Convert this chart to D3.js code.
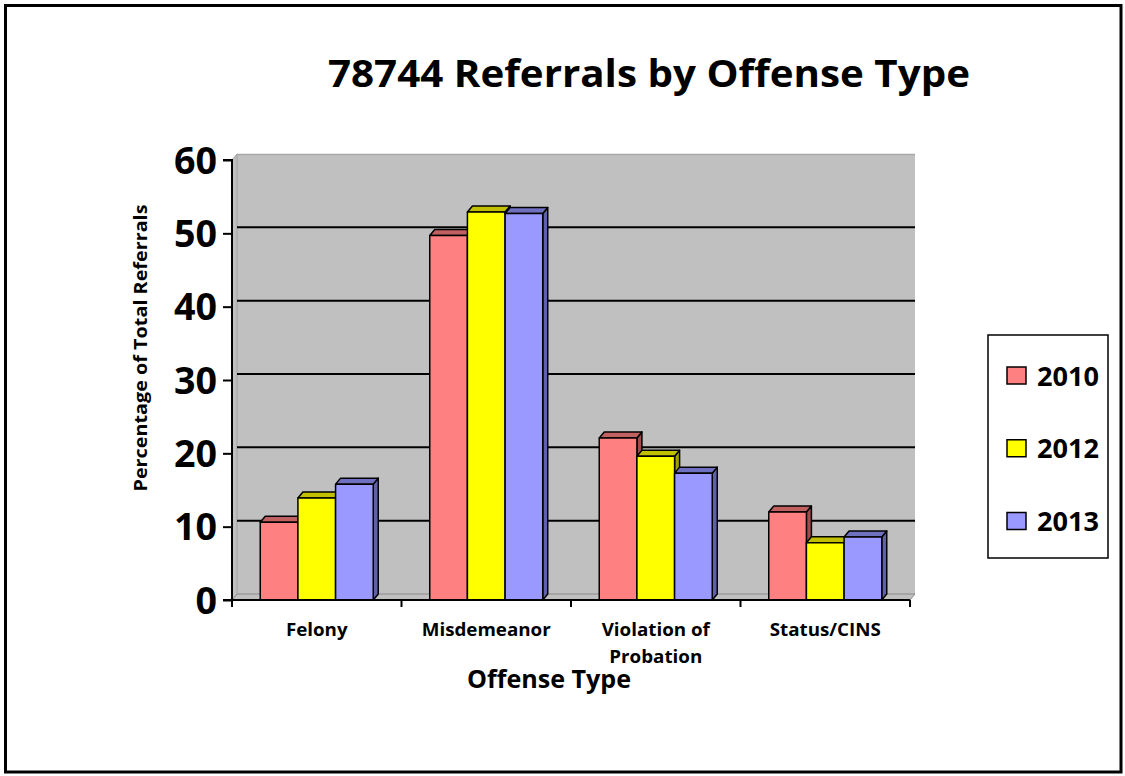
<!DOCTYPE html>
<html>
<head>
<meta charset="utf-8">
<script src="https://cdn.jsdelivr.net/npm/d3@7"></script>
<style>
  html, body { margin: 0; padding: 0; background: #fff; }
  svg { display: block; }
  text { font-family: "Open Sans", Lato, "Liberation Sans", sans-serif; font-weight: bold; fill: #000; }
</style>
</head>
<body>
<svg id="chart" width="1125" height="776"></svg>
<script>
// ---- data ----
const categories = ["Felony", "Misdemeanor", "Violation of\nProbation", "Status/CINS"];
const seriesNames = ["2010", "2012", "2013"];
const values2010 = [10.6, 49.7, 22.1, 12.0];
const values2012 = [13.9, 52.9, 19.6, 7.8];
const values2013 = [15.8, 52.7, 17.3, 8.6];
const yTicks = [0, 10, 20, 30, 40, 50, 60];
const gridTicks = [10, 20, 30, 40, 50];
const titleText = "78744 Referrals by Offense Type";
const xTitleText = "Offense Type";
const yTitleText = "Percentage of Total Referrals";

const seriesValues = [values2010, values2012, values2013];
const frontColors = ["#FF8080", "#FFFF00", "#9999FF"];
const topColors = ["#C06060", "#C0C000", "#7070C0"];
const sideColors = ["#A04C4C", "#A0A000", "#6060A8"];

const FONT = '"Open Sans", Lato, sans-serif';
const svg = d3.select("#chart");

// outer border
svg.append("rect").attr("x", 5.5).attr("y", 5.5).attr("width", 1115.5).attr("height", 766.5)
  .attr("fill", "#fff").attr("stroke", "#000").attr("stroke-width", 3);

// scales
const x0 = 232, x1 = 910, yBottom = 600, yTop = 160;
const x = d3.scaleBand().domain(categories).range([x0, x1]).padding(0);
const xs = d3.scaleBand().domain(seriesNames).range([0, x.bandwidth()]).paddingInner(0).paddingOuter(0.75);
const y = d3.scaleLinear().domain([0, 60]).range([yBottom, yTop]);
const dx = 5, dy = -6;

// stretch a group of texts so that a reference string gets a target width
function stretchTo(sel, refText, target) {
  let k = 1;
  sel.each(function() { if (this.textContent === refText) k = target / this.getComputedTextLength(); });
  sel.each(function() {
    const w = this.getComputedTextLength();
    d3.select(this).attr("textLength", w * k).attr("lengthAdjust", "spacingAndGlyphs");
  });
}

// walls
const wallTop = y(60) + dy;
svg.append("polygon")
  .attr("points", [[x0 + dx, wallTop], [x1 + dx, wallTop], [x1 + dx, yBottom + dy], [x0 + dx, yBottom + dy]].join(" "))
  .attr("fill", "#C0C0C0");
svg.append("polygon")
  .attr("points", [[x0, y(60)], [x0 + dx, wallTop], [x0 + dx, yBottom + dy], [x0, yBottom]].join(" "))
  .attr("fill", "#C0C0C0").attr("stroke", "#A0A0A0").attr("stroke-width", 1);
svg.append("polygon")
  .attr("points", [[x0, yBottom], [x0 + dx, yBottom + dy], [x1 + dx, yBottom + dy], [x1, yBottom]].join(" "))
  .attr("fill", "#C0C0C0").attr("stroke", "#8A8A8A").attr("stroke-width", 1);
svg.append("line").attr("x1", x0 + dx).attr("x2", x1 + dx).attr("y1", wallTop + 0.5).attr("y2", wallTop + 0.5)
  .attr("stroke", "#A8A8A8").attr("stroke-width", 1.5);

// gridlines on back wall
svg.append("g").selectAll("line").data(gridTicks).join("line")
  .attr("x1", x0 + dx).attr("x2", x1 + dx)
  .attr("y1", d => y(d) + dy).attr("y2", d => y(d) + dy)
  .attr("stroke", "#000").attr("stroke-width", 2);

// bars
const barsG = svg.append("g");
categories.forEach((cat, ci) => {
  seriesNames.forEach((s, si) => {
    const v = seriesValues[si][ci];
    const bx = x(cat) + xs(s), bw = xs.bandwidth();
    const by = y(v), bb = y(0);
    const g = barsG.append("g").attr("stroke", "#000").attr("stroke-width", 1.5).attr("stroke-linejoin", "round");
    g.append("polygon")
      .attr("points", [[bx + bw, by], [bx + bw + dx, by + dy], [bx + bw + dx, bb + dy], [bx + bw, bb]].join(" "))
      .attr("fill", sideColors[si]);
    g.append("polygon")
      .attr("points", [[bx, by], [bx + dx, by + dy], [bx + bw + dx, by + dy], [bx + bw, by]].join(" "))
      .attr("fill", topColors[si]);
    g.append("rect").attr("x", bx).attr("y", by).attr("width", bw).attr("height", bb - by)
      .attr("fill", frontColors[si]);
  });
});

// y axis
const yAxis = svg.append("g").attr("transform", `translate(${x0},0)`)
  .call(d3.axisLeft(y).tickValues(yTicks).tickSize(9).tickPadding(6).tickFormat(d3.format("d")));
yAxis.select(".domain").attr("stroke", "#000").attr("stroke-width", 2).attr("d", `M-9,${yTop}H0V${yBottom}H-9`);
yAxis.selectAll(".tick line").attr("stroke", "#000").attr("stroke-width", 2);
yAxis.selectAll(".tick text").attr("font-size", 37).attr("font-family", FONT)
  .attr("font-weight", "bold").attr("dy", "0.36em");
stretchTo(yAxis.selectAll(".tick text"), "60", 43);

// x axis
const xAxis = svg.append("g").attr("transform", `translate(0,${yBottom})`)
  .call(d3.axisBottom(x).tickSize(0).tickPadding(0));
xAxis.select(".domain").attr("stroke", "#000").attr("stroke-width", 2).attr("d", `M${x0},0H${x1}`);
xAxis.selectAll(".tick text").each(function(d) {
  const t = d3.select(this);
  t.text(null).attr("y", 0).attr("dy", null)
    .attr("font-size", 18).attr("font-family", FONT).attr("font-weight", "bold");
  d.split("\n").forEach((line, i) => {
    t.append("tspan").attr("x", 0).attr("y", 36 + i * 27).text(line);
  });
});
stretchTo(xAxis.selectAll(".tick tspan"), "Misdemeanor", 129);
// boundary ticks
const bounds = categories.map(c => x(c)).concat([x1]);
xAxis.append("g").selectAll("line").data(bounds).join("line")
  .attr("x1", d => d).attr("x2", d => d).attr("y1", 0).attr("y2", 7)
  .attr("stroke", "#000").attr("stroke-width", 2);

// title
svg.append("text").attr("x", 649).attr("y", 87).attr("text-anchor", "middle")
  .attr("font-size", 37).text(titleText)
  .attr("textLength", 642).attr("lengthAdjust", "spacingAndGlyphs");

// x axis title
svg.append("text").attr("x", 549).attr("y", 688).attr("text-anchor", "middle")
  .attr("font-size", 25).text(xTitleText)
  .attr("textLength", 164).attr("lengthAdjust", "spacingAndGlyphs");

// y axis title
svg.append("text").attr("transform", "translate(147,348) rotate(-90)").attr("text-anchor", "middle")
  .attr("font-size", 17).text(yTitleText)
  .attr("textLength", 287).attr("lengthAdjust", "spacingAndGlyphs");

// legend
const legend = svg.append("g");
legend.append("rect").attr("x", 988).attr("y", 335).attr("width", 120).attr("height", 223)
  .attr("fill", "#fff").attr("stroke", "#000").attr("stroke-width", 1.5);
const legendY = d3.scalePoint().domain(seriesNames).range([375.5, 521]);
seriesNames.forEach((s, i) => {
  const cy = legendY(s);
  legend.append("rect").attr("x", 1007).attr("y", cy - 8.5).attr("width", 19).attr("height", 17)
    .attr("fill", frontColors[i]).attr("stroke", "#000").attr("stroke-width", 1.5);
  legend.append("text").attr("x", 1037).attr("y", cy + 10).attr("font-size", 27).text(s)
    .attr("textLength", 62).attr("lengthAdjust", "spacingAndGlyphs");
});
</script>
</body>
</html>
